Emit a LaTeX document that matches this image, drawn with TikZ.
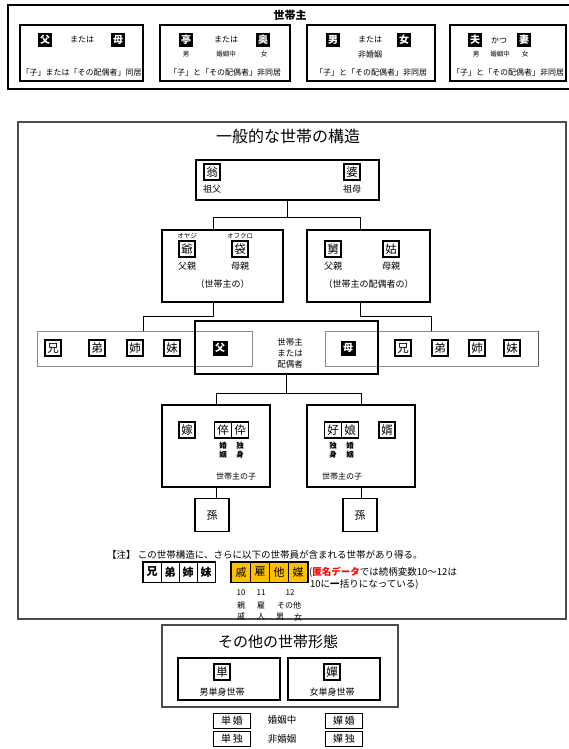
\documentclass[tikz,border=0pt]{standalone}
\usepackage{fontspec}
\setmainfont{Noto Sans CJK JP}
\usetikzlibrary{fit}
\definecolor{orng}{HTML}{FFC000}
\definecolor{frame}{gray}{0.3}
\definecolor{gline}{gray}{0.55}
\newcommand\myfs[1]{\fontsize{#1}{#1}\selectfont}
\begin{document}
\begin{tikzpicture}[x=1pt,y=-1pt,
  sb/.style={draw, line width=1.5pt, minimum height=56pt, inner sep=0},
  bk/.style={fill=black, text=white, font=\bfseries\myfs{10}, minimum size=14pt, inner sep=0},
  kb/.style={draw, line width=1.1pt, minimum size=16pt, inner sep=0, font=\myfs{11.5}},
  t8/.style={font=\myfs{8}, inner sep=0},
  t7/.style={font=\myfs{6.5}, inner sep=0},
  t9/.style={font=\myfs{9}, inner sep=0, align=center},
  tb/.style={font=\bfseries\myfs{7.5}, inner sep=0, align=center},
  mb/.style={draw, line width=1.5pt, inner sep=0},
  gb/.style={draw=gline, line width=0.8pt, minimum height=35pt, inner sep=0},
  cn/.style={line width=1pt},
  nb/.style={draw, line width=0.8pt, minimum width=18pt, minimum height=20pt, inner sep=0, font=\bfseries\myfs{11}},
  ob/.style={draw, fill=orng, line width=0.8pt, minimum width=19pt, minimum height=20pt, inner sep=0, font=\myfs{11}},
  lb/.style={draw, line width=1pt, minimum width=37pt, minimum height=15pt, inner sep=0, font=\myfs{10}}
]
\useasboundingbox (0,0) rectangle (569,749);
% ---------------- top panel
\node[draw, line width=2.5pt, minimum width=572pt, minimum height=84pt] (hh) at (294,47) {};
\node[font=\bfseries\myfs{11}, inner sep=0] (hht) at (290,15) {世帯主};

\node[sb, minimum width=123pt] (s1) at (81.5,53) {};
\node[bk] (s1a) at (45,40) {父};
\node[t8] (s1o) at (82,40) {または};
\node[bk] (s1b) at (118,40) {母};
\node[t8] (s1c) at (81.5,72) {「子」または「その配偶者」同居};

\node[sb, minimum width=130pt] (s2) at (225,53) {};
\node[bk] (s2a) at (186,40) {亭};
\node[t8] (s2o) at (226,40) {または};
\node[bk] (s2b) at (263,40) {奥};
\node[t7] (s2m) at (186,54) {男};
\node[t7] (s2k) at (226,54) {婚姻中};
\node[t7] (s2f) at (264,54) {女};
\node[t8] (s2c) at (225,72) {「子」と「その配偶者」非同居};

\node[sb, minimum width=128pt] (s3) at (371,53) {};
\node[bk] (s3a) at (333,40) {男};
\node[t8] (s3o) at (370,40) {または};
\node[bk] (s3b) at (404,40) {女};
\node[t8] (s3k) at (370,55) {非婚姻};
\node[t8] (s3c) at (371,72) {「子」と「その配偶者」非同居};

\node[sb, minimum width=116pt] (s4) at (508,53) {};
\node[bk] (s4a) at (475,40) {夫};
\node[t8] (s4o) at (499,40) {かつ};
\node[bk] (s4b) at (524,40) {妻};
\node[t7] (s4m) at (476,54) {男};
\node[t7] (s4k) at (500,54) {婚姻中};
\node[t7] (s4f) at (525,54) {女};
\node[t8] (s4c) at (508,72) {「子」と「その配偶者」非同居};

% ---------------- general structure
\node[draw=frame, line width=2pt, minimum width=548pt, minimum height=497pt] (gen) at (292,370.5) {};
\node[font=\myfs{16}, inner sep=0] (gent) at (288,136) {一般的な世帯の構造};

% grandparents
\node[mb, minimum width=183pt, minimum height=40pt] (gp) at (287.5,180) {};
\node[kb] (gpa) at (212,172) {翁};
\node[t9] (gpal) at (212,189) {祖父};
\node[kb] (gpb) at (352,172) {婆};
\node[t9] (gpbl) at (352,189) {祖母};

% parents
\node[mb, minimum width=121pt, minimum height=72pt] (pl) at (222.5,266) {};
\node[t7] (plk1) at (187,236) {オヤジ};
\node[t7] (plk2) at (240,236) {オフクロ};
\node[kb] (pla) at (187,249) {爺};
\node[kb] (plb) at (240,249) {袋};
\node[t9] (plal) at (187,266) {父親};
\node[t9] (plbl) at (240,266) {母親};
\node[t9] (plt) at (222.5,284) {（世帯主の）};

\node[mb, minimum width=123pt, minimum height=72pt] (pr) at (368.5,266) {};
\node[kb] (pra) at (333,249) {舅};
\node[kb] (prb) at (391,249) {姑};
\node[t9] (pral) at (333,266) {父親};
\node[t9] (prbl) at (391,266) {母親};
\node[t9] (prt) at (368.5,284) {（世帯主の配偶者の）};

\draw[cn] (gp.south) -- ++(0,17) -| ([xshift=-9.5pt]pl.north);
\draw[cn] (gp.south) -- ++(0,17) -| ([xshift=-8pt]pr.north);

% siblings rows
\node[gb, minimum width=215pt] (sl) at (144.5,348.5) {};
\node[kb] (sl1) at (53,348) {兄};
\node[kb] (sl2) at (97,348) {弟};
\node[kb] (sl3) at (135,348) {姉};
\node[kb] (sl4) at (172,348) {妹};
\node[bk, minimum size=15pt] (slf) at (220,348) {父};

\node[gb, minimum width=213pt] (sr) at (431.5,348.5) {};
\draw[line width=1.6pt, gray!70!black] (sr.north east) -- (sr.south east);
\node[bk, minimum size=15pt] (srm) at (348,348) {母};
\node[kb] (sr1) at (403,348) {兄};
\node[kb] (sr2) at (440,348) {弟};
\node[kb] (sr3) at (477,348) {姉};
\node[kb] (sr4) at (512,348) {妹};

\node[draw, line width=2pt, minimum width=183pt, minimum height=53pt, inner sep=0] (c) at (286.5,347.5) {};
\node[t8, align=center, font=\myfs{8.5}] (ct) at (290,353) {世帯主\\[2.5pt]または\\[2.5pt]配偶者};

\draw[cn] ([xshift=-9.5pt]pl.south) -- ++(0,14) -| ([xshift=-1.5pt]sl.north);
\draw[cn] ([xshift=-8.5pt]pr.south) -- ++(0,14) -| (sr.north);

% children
\node[inner sep=0, minimum width=108pt, minimum height=82pt] (kl) at (216,446) {};
\draw[line width=1.5pt] ([yshift=7pt]kl.east) -- (kl.north east) -- (kl.north west) -- (kl.south west) -- (kl.south east) -- ([yshift=21pt]kl.east);
\node[kb] (kla) at (187,430) {嫁};
\node[kb, minimum width=17pt] (klb) at (223,430) {倅};
\node[kb, minimum width=17pt] (klc) at (240,430) {伜};
\node[tb] (klbl) at (223,450) {婚\\[1pt]姻};
\node[tb] (klcl) at (240,450) {独\\[1pt]身};
\node[t8] (klt) at (236,476) {世帯主の子};

\node[mb, minimum width=108pt, minimum height=82pt] (kr) at (361,446) {};
\node[kb, minimum width=17pt] (kra) at (333,430) {好};
\node[kb, minimum width=17pt] (krb) at (350,430) {娘};
\node[kb] (krc) at (387,430) {婿};
\node[tb] (kral) at (333,450) {独\\[1pt]身};
\node[tb] (krbl) at (350,450) {婚\\[1pt]姻};
\node[t8] (krt) at (342,476) {世帯主の子};

\draw[cn] (c.south) -- ++(0,18) -| (kl.north);
\draw[cn] (c.south) -- ++(0,18) -| (kr.north);

% grandchildren
\node[mb, minimum width=34pt, minimum height=33pt, font=\myfs{11}] (gl) at (212,515) {孫};
\node[mb, minimum width=34pt, minimum height=33pt, font=\myfs{11}] (gr) at (360,515) {孫};
\draw[cn] (kl.south) -- (kl.south |- gl.north);
\draw[cn] (kr.south) -- (kr.south |- gr.north);

% note
\node[anchor=west, font=\myfs{9.5}, inner sep=0] (note) at (107,555) {【注】 この世帯構造に、さらに以下の世帯員が含まれる世帯があり得る。};
\node[nb] (n1) at (152,572) {兄};
\node[nb] (n2) at (170,572) {弟};
\node[nb] (n3) at (188,572) {姉};
\node[nb] (n4) at (206,572) {妹};
\node[fit=(n1)(n4), draw, line width=1.8pt, inner sep=0] (nall) {};
\node[ob] (o1) at (241,572) {戚};
\node[ob] (o2) at (260,572) {雇};
\node[ob] (o3) at (279,572) {他};
\node[ob] (o4) at (298,572) {媒};
\node[fit=(o1)(o4), draw, line width=1.3pt, inner sep=0] (oall) {};
\node[anchor=west, font=\myfs{9.5}, inner sep=0] (ann1) at (309,572) {(\textcolor{red}{\bfseries 匿名データ}では続柄変数10～12は};
\node[anchor=west, font=\myfs{9.5}, inner sep=0] (ann2) at (310,584) {10に\textbf{一}括りになっている)};
\node[t8] (c10) at (241,593) {10};
\node[t8] (c11) at (261,593) {11};
\node[t8] (c12) at (290,593) {12};
\node[t8, align=center] (d10) at (241,611) {親\\[3pt]戚};
\node[t8, align=center] (d11) at (261,611) {雇\\[3pt]人};
\node[t8] (d12) at (289,605) {その他};
\node[t8] (d12a) at (280,617) {男};
\node[t8] (d12b) at (298,617) {女};

% other household forms
\node[draw=frame, line width=1.5pt, minimum width=236pt, minimum height=82pt] (oth) at (280,666) {};
\node[font=\myfs{15}, inner sep=0] (otht) at (278,642) {その他の世帯形態};
\node[mb, minimum width=102pt, minimum height=42pt] (om) at (229,679) {};
\node[kb] (oma) at (222,672) {単};
\node[t9] (omt) at (222,692) {男単身世帯};
\node[mb, minimum width=92pt, minimum height=42pt] (of) at (334,679) {};
\node[kb] (ofa) at (332,672) {嬋};
\node[t9] (oft) at (332,692) {女単身世帯};

% legend
\node[lb] (l1) at (232,721) {単\,婚};
\node[t9, font=\myfs{9.5}] (l1t) at (282,720) {婚姻中};
\node[lb] (l2) at (344,721) {嬋\,婚};
\node[lb] (l3) at (232,739) {単\,独};
\node[t9, font=\myfs{9.5}] (l3t) at (282,739) {非婚姻};
\node[lb] (l4) at (344,739) {嬋\,独};
\end{tikzpicture}
\end{document}
